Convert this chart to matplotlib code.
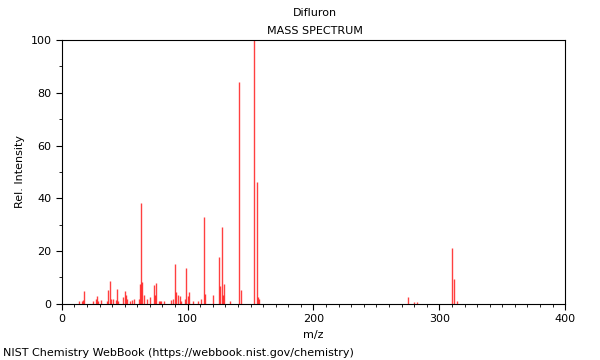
import matplotlib
matplotlib.use("Agg")
import matplotlib.pyplot as plt
from matplotlib.ticker import MultipleLocator

# Datos del espectro (m/z, intensidad relativa)
mz = [14, 16, 17, 18, 25, 27, 28, 29, 31, 36, 37, 38, 39, 41, 43, 44, 45,
      49, 50, 51, 52, 54, 56, 57, 61, 62, 63, 64, 65, 68, 70, 73, 74, 75,
      77, 78, 79, 81, 87, 88, 90, 91, 92, 94, 95, 98, 99, 100, 101, 104,
      108, 111, 113, 114, 120, 125, 126, 127, 128, 129, 134, 141, 142,
      153, 155, 156, 157, 275, 280, 282, 310, 312, 314]
intensidad = [1, 1, 1.5, 5, 1, 2, 3, 1, 1.5, 1, 5.3, 8.8, 2, 2, 1.5, 5.5, 1,
              2.5, 5, 3.5, 2, 1, 1.5, 2, 2, 7.5, 38.3, 8.2, 3.3, 2, 2.5, 7, 3.5, 7.8,
              1, 1, 1, 1, 1.5, 2, 15, 4.3, 3.5, 3, 1, 2, 13.5, 3, 4.6, 1,
              1, 2, 32.8, 3.7, 3.4, 17.7, 6.8, 29.3, 3.5, 7.6, 1, 84, 5.3,
              100, 46, 2.5, 1.8, 2.5, 0.8, 0.8, 21.3, 9.5, 1.2]

fig = plt.figure(figsize=(6, 3.6), dpi=100)
ax = fig.add_axes([0.103, 0.156, 0.839, 0.733])

# Dibujar las lineas del espectro
ax.vlines(mz, 0, intensidad, colors="#ff0000", linewidth=1, alpha=0.75)

ax.set_xlim(0, 400)
ax.set_ylim(0, 100)
ax.xaxis.set_major_locator(MultipleLocator(100))
ax.xaxis.set_minor_locator(MultipleLocator(10))
ax.yaxis.set_major_locator(MultipleLocator(20))
ax.yaxis.set_minor_locator(MultipleLocator(10))
ax.tick_params(labelsize=8, length=4, width=0.8, direction="out")
ax.tick_params(which="minor", length=2.5, width=0.6)

ax.set_xlabel("m/z", fontsize=8)
ax.set_ylabel("Rel. Intensity", fontsize=8)

# Titulos
fig.text(0.525, 0.964, "Difluron", ha="center", va="center", fontsize=8)
fig.text(0.525, 0.914, "MASS SPECTRUM", ha="center", va="center", fontsize=8)
fig.text(0.005, 0.02, "NIST Chemistry WebBook (https://webbook.nist.gov/chemistry)",
         ha="left", va="center", fontsize=8)

fig.savefig("out.png", dpi=100)
